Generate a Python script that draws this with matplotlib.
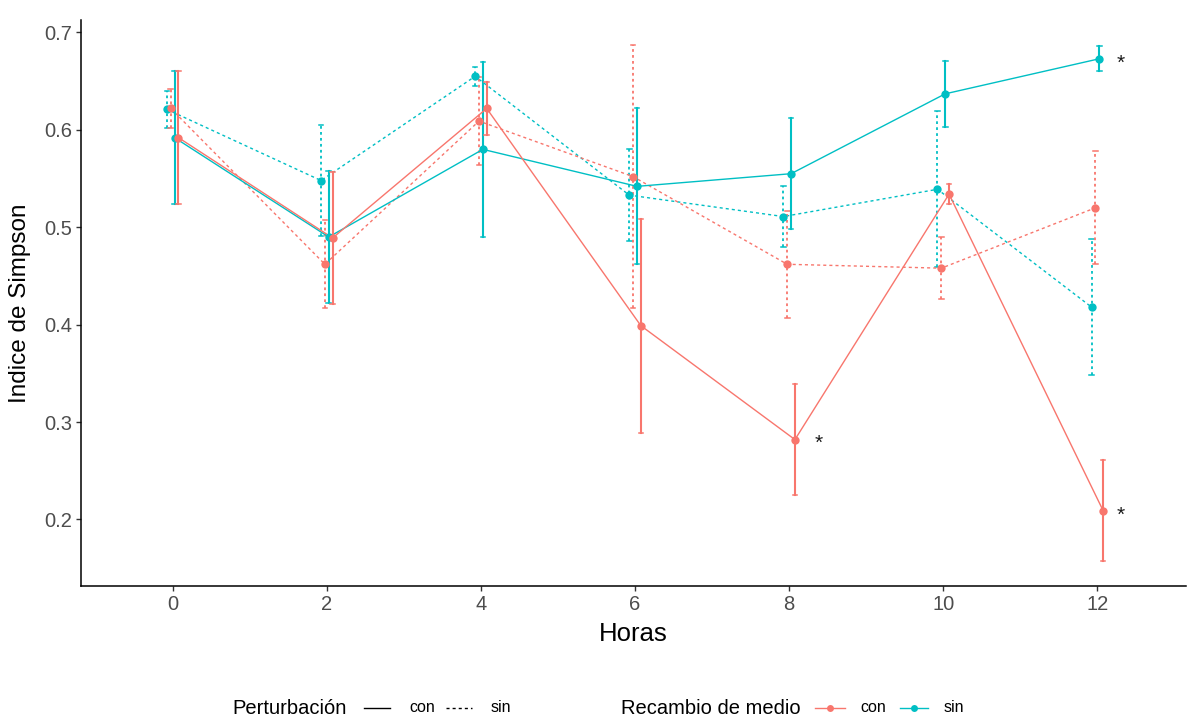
import matplotlib
matplotlib.use("Agg")
import matplotlib.pyplot as plt
from matplotlib.lines import Line2D
import numpy as np

plt.rcParams['font.family'] = ['Liberation Sans', 'DejaVu Sans']

# ---- data ----
horas = [0, 2, 4, 6, 8, 10, 12]

# Perturbación con / Recambio con (red, solid)
con_con_mean = [0.592, 0.489, 0.622, 0.399, 0.282, 0.534, 0.209]
con_con_err = [0.068, 0.068, 0.027, 0.110, 0.057, 0.010, 0.052]
# Perturbación con / Recambio sin (teal, solid)
con_sin_mean = [0.592, 0.490, 0.580, 0.542, 0.555, 0.637, 0.673]
con_sin_err = [0.068, 0.068, 0.090, 0.080, 0.057, 0.034, 0.013]
# Perturbación sin / Recambio con (red, dotted)
sin_con_mean = [0.622, 0.462, 0.609, 0.552, 0.462, 0.458, 0.520]
sin_con_err = [0.020, 0.045, 0.045, 0.135, 0.055, 0.032, 0.058]
# Perturbación sin / Recambio sin (teal, dotted)
sin_sin_mean = [0.621, 0.548, 0.655, 0.533, 0.511, 0.539, 0.418]
sin_sin_err = [0.019, 0.057, 0.010, 0.047, 0.031, 0.080, 0.070]

star_x = [8.38, 12.3, 12.3]
star_y = [0.282, 0.673, 0.209]

x_ticks = [0, 2, 4, 6, 8, 10, 12]
y_ticks = [0.2, 0.3, 0.4, 0.5, 0.6, 0.7]

RED = '#F8766D'
TEAL = '#00BFC4'
DOT = (2.2, 2.2)

series = [
    (sin_sin_mean, sin_sin_err, TEAL, 'dotted', -0.075),
    (sin_con_mean, sin_con_err, RED, 'dotted', -0.025),
    (con_sin_mean, con_sin_err, TEAL, 'solid', 0.025),
    (con_con_mean, con_con_err, RED, 'solid', 0.075),
]

W, H = 1189, 722
fig = plt.figure(figsize=(W / 100, H / 100), dpi=100)
ax = fig.add_axes([81 / W, 1 - 586 / H, (1186 - 81) / W, (586 - 20) / H])

for mean, err, col, ls, off in series:
    x = np.array(horas) + off
    m = np.array(mean)
    e = np.array(err)
    kw = dict(color=col, lw=1.0)
    if ls == 'dotted':
        ln, = ax.plot(x, m, **kw)
        ln.set_dashes(DOT)
    else:
        ax.plot(x, m, **kw)
    for xi, mi, ei in zip(x, m, e):
        bar, = ax.plot([xi, xi], [mi - ei, mi + ei], color=col, lw=1.5 if ls == 'solid' else 1.3)
        if ls == 'dotted':
            bar.set_dashes((1.5, 1.8))
        for yc in (mi - ei, mi + ei):
            ax.plot([xi - 0.03, xi + 0.03], [yc, yc], color=col, lw=1.1)
    ax.plot(x, m, 'o', color=col, ms=6, mec='none', zorder=5)

for sx, sy in zip(star_x, star_y):
    ax.annotate('*', (sx, sy), xytext=(0, -3), textcoords='offset points',
                ha='center', va='center', fontsize=15, color='#1a1a1a')

ax.set_xlim(-1.19, 13.15)
ax.set_ylim(0.1317, 0.7128)
ax.set_xticks(x_ticks)
ax.set_xticklabels([str(v) for v in x_ticks])
ax.set_yticks(y_ticks)
ax.set_yticklabels([f'{v:.1f}' for v in y_ticks])
for s in ('top', 'right'):
    ax.spines[s].set_visible(False)
for s in ('left', 'bottom'):
    ax.spines[s].set_color('black')
    ax.spines[s].set_linewidth(1.1)
ax.tick_params(axis='both', length=3.5, width=1, color='#333333',
               labelsize=14.5, labelcolor='#4D4D4D', pad=3)
ax.set_xlabel('Horas', fontsize=18.5, color='black', labelpad=6)
ax.set_ylabel('Indice de Simpson', fontsize=17.5, color='black', labelpad=9)

# ---- legend (bottom, horizontal) ----
def fx(px):
    return px / W

ly = 1 - 708 / H
tr = fig.transFigure
fig.text(fx(232), ly, 'Perturbación', fontsize=14.5, va='center', ha='left')
fig.add_artist(Line2D([fx(364), fx(390)], [ly, ly], color='black', lw=1.0, transform=tr))
fig.text(fx(409), ly, 'con', fontsize=11.5, va='center', ha='left')
dl = Line2D([fx(446), fx(472)], [ly, ly], color='black', lw=1.0, transform=tr)
dl.set_dashes(DOT)
fig.add_artist(dl)
fig.text(fx(491), ly, 'sin', fontsize=11.5, va='center', ha='left')
fig.text(fx(621), ly, 'Recambio de medio', fontsize=14.5, va='center', ha='left')
fig.add_artist(Line2D([fx(815), fx(845)], [ly, ly], color=RED, lw=1.0, transform=tr))
fig.add_artist(Line2D([fx(830)], [ly], color=RED, marker='o', ms=5, mec='none', transform=tr))
fig.text(fx(860), ly, 'con', fontsize=11.5, va='center', ha='left')
fig.add_artist(Line2D([fx(900), fx(928)], [ly, ly], color=TEAL, lw=1.0, transform=tr))
fig.add_artist(Line2D([fx(914)], [ly], color=TEAL, marker='o', ms=5, mec='none', transform=tr))
fig.text(fx(944), ly, 'sin', fontsize=11.5, va='center', ha='left')

fig.savefig('out.png', dpi=100)
